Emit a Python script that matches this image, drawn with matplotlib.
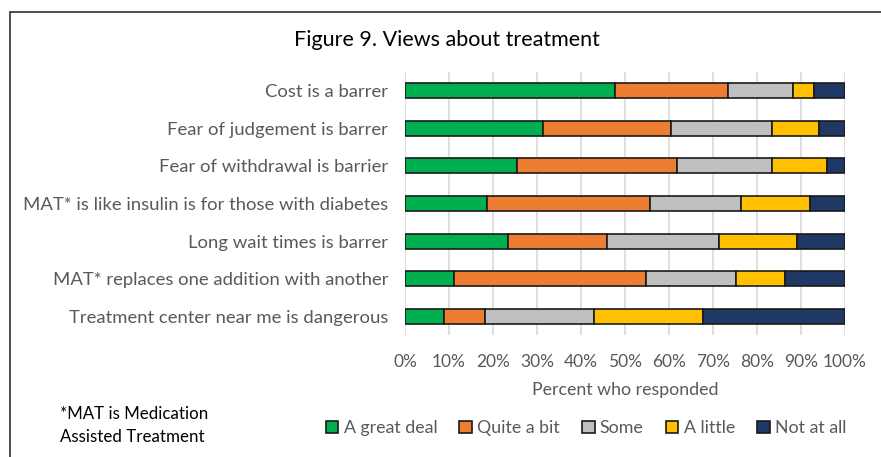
import matplotlib.pyplot as plt
import matplotlib.patches as mpatches
import numpy as np

plt.rcParams['font.family'] = ['Lato', 'DejaVu Sans']

# Data (top row first)
statements = ['Cost is a barrer',
              'Fear of judgement is barrer',
              'Fear of withdrawal is barrier',
              'MAT* is like insulin is for those with diabetes',
              'Long wait times is barrer',
              'MAT* replaces one addition with another',
              'Treatment center near me is dangerous']
responses = ['A great deal', 'Quite a bit', 'Some', 'A little', 'Not at all']
great_deal = [47.7, 31.4, 25.5, 18.7, 23.3, 11.1, 8.9]
quite_a_bit = [25.6, 29.1, 36.4, 36.9, 22.5, 43.7, 9.3]
some = [14.9, 22.8, 21.6, 20.8, 25.6, 20.4, 24.7]
a_little = [4.7, 10.8, 12.5, 15.7, 17.6, 11.2, 24.8]
not_at_all = [7.1, 5.9, 4.0, 7.9, 11.0, 13.6, 32.3]
colors = ['#00B050', '#ED7D31', '#BFBFBF', '#FFC000', '#1F3864']

fig = plt.figure(figsize=(8.81, 4.57), dpi=100)
ax = fig.add_axes([405 / 881, 1 - 335 / 457, 440 / 881, 263 / 457])

y = np.arange(len(statements))[::-1]
left = np.zeros(len(statements))
for vals, lab, c in zip([great_deal, quite_a_bit, some, a_little, not_at_all], responses, colors):
    ax.barh(y, vals, left=left, height=0.4, color=c, edgecolor='#1a1a1a',
            linewidth=1.2, label=lab, zorder=3)
    left += np.array(vals)

ax.set_xlim(0, 100)
ax.set_ylim(-0.5, 6.5)
ax.set_xticks(np.arange(0, 101, 10))
ax.set_xticklabels([f'{v}%' for v in range(0, 101, 10)])
ax.set_yticks(y)
ax.set_yticklabels(statements)
ax.tick_params(axis='both', length=0, labelsize=12.5, colors='#595959')
ax.tick_params(axis='y', labelsize=13.3, pad=12)
ax.tick_params(axis='x', pad=14)
ax.grid(axis='x', color='#D9D9D9', linewidth=1.2, zorder=0)
for s in ax.spines.values():
    s.set_visible(False)
ax.set_xlabel('Percent who responded', fontsize=12.8, color='#595959', labelpad=8)

fig.text(447 / 881, 1 - 40 / 457, 'Figure 9. Views about treatment', fontsize=15.5,
         ha='center', va='center', color='black')

fig.legend(*ax.get_legend_handles_labels(), loc='center', bbox_to_anchor=(586 / 881, 1 - 428 / 457),
           ncol=5, frameon=False, fontsize=12.8, handlelength=0.7, handleheight=0.7,
           handletextpad=0.3, columnspacing=1.25, labelcolor='#595959')

fig.text(60 / 881, 1 - 414 / 457, '*MAT is Medication', fontsize=12.2, va='center')
fig.text(60 / 881, 1 - 437 / 457, 'Assisted Treatment', fontsize=12.2, va='center')

# outer frame (right and bottom edges fall outside the picture)
fig.patches.append(mpatches.Rectangle((10 / 881, -0.1), 1.2, 1 - 12 / 457 + 0.1,
                                      transform=fig.transFigure, fill=False,
                                      edgecolor='#404040', linewidth=1.3))

fig.savefig('out.png', dpi=100)
